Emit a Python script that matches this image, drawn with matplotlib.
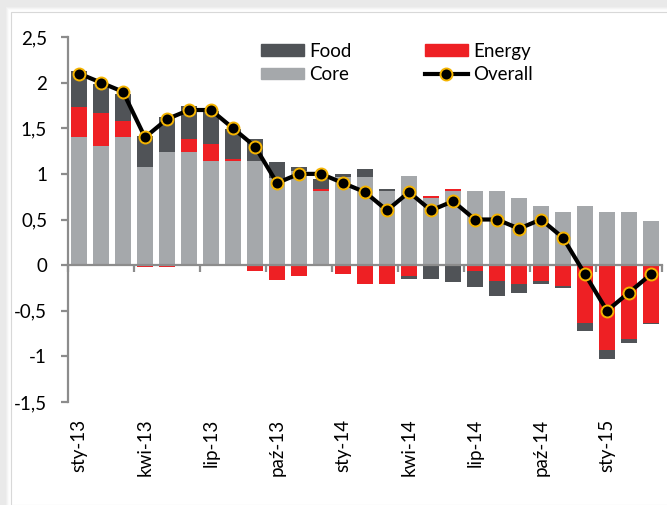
import numpy as np
import matplotlib.pyplot as plt
from matplotlib.patches import Rectangle
from matplotlib.lines import Line2D

# Monthly contributions to inflation, Jan 2013 - Mar 2015
months = ['sty-13', 'lut-13', 'mar-13', 'kwi-13', 'maj-13', 'cze-13', 'lip-13', 'sie-13', 'wrz-13',
          'paź-13', 'lis-13', 'gru-13', 'sty-14', 'lut-14', 'mar-14', 'kwi-14', 'maj-14', 'cze-14',
          'lip-14', 'sie-14', 'wrz-14', 'paź-14', 'lis-14', 'gru-14', 'sty-15', 'lut-15', 'mar-15']

core = [1.40, 1.31, 1.40, 1.07, 1.235, 1.235, 1.14, 1.14, 1.14, 0.95, 1.03, 0.81, 0.97, 0.97,
        0.81, 0.975, 0.74, 0.81, 0.81, 0.81, 0.74, 0.65, 0.58, 0.65, 0.58, 0.58, 0.48]
energy = [0.33, 0.36, 0.18, -0.02, -0.02, 0.145, 0.19, 0.02, -0.06, -0.16, -0.12, 0.02, -0.10, -0.21,
          -0.21, -0.12, 0.02, 0.02, -0.06, -0.175, -0.21, -0.175, -0.23, -0.63, -0.925, -0.815, -0.63]
food = [0.40, 0.31, 0.295, 0.35, 0.385, 0.36, 0.36, 0.33, 0.24, 0.18, 0.04, 0.11, 0.03, 0.08,
        0.02, -0.03, -0.15, -0.19, -0.18, -0.165, -0.09, -0.03, -0.02, -0.09, -0.105, -0.035, -0.02]
overall = [2.1, 2.0, 1.9, 1.4, 1.6, 1.7, 1.7, 1.5, 1.3, 0.9, 1.0, 1.0, 0.9, 0.8, 0.6, 0.8, 0.6,
           0.7, 0.5, 0.5, 0.4, 0.5, 0.3, -0.1, -0.5, -0.3, -0.1]

c_core = '#a5a8ab'
c_food = '#505357'
c_energy = '#ee2024'
c_axis = '#8c8c8c'
fs = 13.5

plt.rcParams['font.family'] = ['Lato', 'DejaVu Sans']

fig = plt.figure(figsize=(6.67, 5.05), dpi=100)
fig.patch.set_facecolor('#e9e9e9')
# white panel with a soft shadow on the top/left edge
for i in range(6):
    fig.patches.append(Rectangle(((6 + i) / 667, 0), 1, 1 - (7 + i) / 505,
                                 transform=fig.transFigure, facecolor='white', alpha=0.25 + 0.15 * i,
                                 edgecolor='none', zorder=-10 + i))
fig.patches.append(Rectangle((11 / 667, 0), 1, 1 - 12 / 505, transform=fig.transFigure,
                             facecolor='white', edgecolor='#d8d8d8', lw=0.8, zorder=-3))

ax = fig.add_axes([68 / 667, 1 - 402 / 505, (662 - 68) / 667, (402 - 37) / 505])
ax.set_facecolor('none')

x = np.arange(len(months))
w = 0.74
pos_bottom = np.zeros(len(months))
neg_bottom = np.zeros(len(months))
for vals, col in [(core, c_core), (energy, c_energy), (food, c_food)]:
    v = np.array(vals)
    p = np.where(v > 0, v, 0)
    n = np.where(v < 0, v, 0)
    ax.bar(x, p, w, bottom=pos_bottom, color=col, zorder=1)
    ax.bar(x, n, w, bottom=neg_bottom, color=col, zorder=1)
    pos_bottom += p
    neg_bottom += n

line_kw = dict(color='black', lw=3.0, marker='o', markersize=8.6, markerfacecolor='black',
               markeredgecolor='#f5b400', markeredgewidth=1.4)
ax.plot(x, overall, zorder=4, **line_kw)

ax.set_xlim(-0.5, len(months) - 0.5)
ax.set_ylim(-1.5, 2.5)
yt = np.arange(-1.5, 2.51, 0.5)
ax.set_yticks(yt)
ax.set_yticklabels([('%g' % t).replace('.', ',') for t in yt], fontsize=fs)
ax.tick_params(axis='y', length=5, width=1.6, color=c_axis, pad=10)

for s in ['top', 'right']:
    ax.spines[s].set_visible(False)
ax.spines['left'].set_color(c_axis)
ax.spines['left'].set_linewidth(1.6)
ax.spines['bottom'].set_position(('data', 0))
ax.spines['bottom'].set_color(c_axis)
ax.spines['bottom'].set_linewidth(1.6)
ax.set_xticks(np.arange(-0.5, len(months), 3))
ax.set_xticklabels([])
ax.tick_params(axis='x', length=5, width=1.6, color=c_axis)

sec = ax.secondary_xaxis('bottom')
sec.spines['bottom'].set_visible(False)
sec.set_xticks(x[::3])
sec.set_xticklabels(months[::3], rotation=90, fontsize=fs)
sec.tick_params(axis='x', length=0, pad=12)

handles = [Rectangle((0, 0), 1, 1, color=c_food), Rectangle((0, 0), 1, 1, color=c_core),
           Rectangle((0, 0), 1, 1, color=c_energy), Line2D([], [], **line_kw)]
ax.legend(handles, ['Food', 'Core', 'Energy', 'Overall'], ncol=2, frameon=False, fontsize=fs,
          handlelength=2.3, handleheight=0.6, handletextpad=0.3, columnspacing=3.9, labelspacing=0.35,
          numpoints=1, loc='upper left', bbox_to_anchor=(253 / 667, 1 - 35 / 505),
          bbox_transform=fig.transFigure, borderaxespad=0)

fig.savefig('out.png', dpi=100)
